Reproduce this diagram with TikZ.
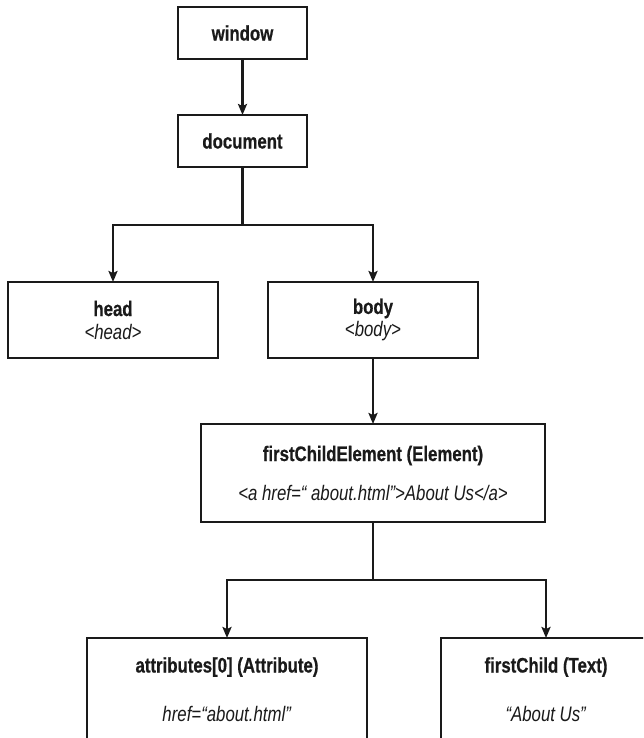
\documentclass[tikz,border=0pt]{standalone}
\usepackage{fontspec}
\setmainfont{Liberation Sans}[FakeStretch=0.8,BoldFeatures={FakeBold=0.6}]
\usetikzlibrary{arrows.meta}
\definecolor{ink}{HTML}{1A1A1A}
\begin{document}
\begin{tikzpicture}[x=1pt,y=-1pt,
  box/.style={draw=ink,line width=2.4pt,fill=white,inner sep=0pt,outer sep=0pt,
    align=center,text=ink,font=\fontsize{21}{23}\selectfont},
  conn/.style={draw=ink,line width=2.4pt},
  arr/.style={conn,-{Stealth[length=11pt,width=9pt,inset=2pt]}}]
\useasboundingbox (0,0) rectangle (643,738);
\clip (0,0) rectangle (643,738);
\fill[white] (0,0) rectangle (643,738);
% nodes
\node[box,minimum width=129pt,minimum height=52pt] (window) at (242.5,33) {\textbf{window}};
\node[box,minimum width=129pt,minimum height=52pt] (document) at (242.5,141) {\textbf{document}};
\node[box,minimum width=210pt,minimum height=76pt] (head) at (113,320) {\textbf{head}\\\textit{<head>}};
\node[box,minimum width=210pt,minimum height=76pt] (body) at (373,320) {\textbf{body}\\\textit{<body>}};
\node[box,minimum width=344pt,minimum height=98pt] (fce) at (373,473) {\textbf{firstChildElement (Element)}\\[16pt]\textit{<a href=“ about.html”>About Us</a>}};
\node[box,minimum width=280pt,minimum height=103pt] (attr) at (227,689.5) {\textbf{attributes[0] (Attribute)}\\[26pt]\textit{href=“about.html”}};
\node[box,minimum width=210pt,minimum height=103pt] (fchild) at (546,689.5) {\textbf{firstChild (Text)}\\[26pt]\textit{“About Us”}};
\coordinate (j1) at (242.5,225);
\coordinate (j2) at (373,580);
% connectors
\draw[arr] (window.south) -- (document.north);
\draw[conn] (document.south) -- (j1);
\draw[arr] (j1) -| (head.north);
\draw[arr] (j1) -| (body.north);
\draw[arr] (body.south) -- (fce.north);
\draw[conn] (fce.south) -- (j2);
\draw[arr] (j2) -| (attr.north);
\draw[arr] (j2) -| (fchild.north);
\end{tikzpicture}
\end{document}
